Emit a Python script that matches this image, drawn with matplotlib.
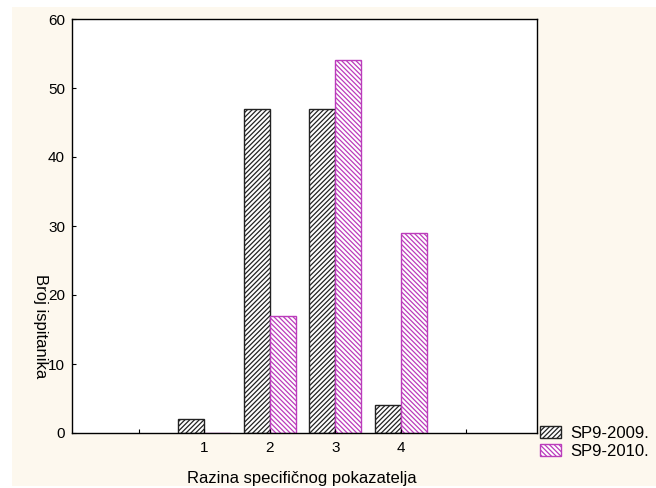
import matplotlib
matplotlib.use("Agg")
import matplotlib.pyplot as plt
from matplotlib.patches import Rectangle
import numpy as np

categories = [1, 2, 3, 4]
sp2009 = [2, 47, 47, 4]
sp2010 = [0, 17, 54, 29]
series_labels = ["SP9-2009.", "SP9-2010."]

plt.rcParams['font.family'] = ['Liberation Sans', 'DejaVu Sans']
plt.rcParams['hatch.linewidth'] = 0.9

W, H = 656, 488
fig = plt.figure(figsize=(W / 100, H / 100), dpi=100, facecolor='white')
fig.patches.append(Rectangle((12 / W, 1 - 486 / H), (W - 12) / W, (486 - 7) / H,
                             transform=fig.transFigure, facecolor='#fdf8ee',
                             edgecolor='none', zorder=-10))

ax = fig.add_axes([72 / W, 1 - 433 / H, (537 - 72) / W, (433 - 19) / H])
ax.set_facecolor('white')

x = np.array(categories, dtype=float)
w = 0.4
b1 = ax.bar(x - w / 2, sp2009, width=w, facecolor='white', edgecolor='#222222',
            hatch='/' * 7, linewidth=1.0, label=series_labels[0])
b2 = ax.bar(x + w / 2, sp2010, width=w, facecolor='white', edgecolor='#bb3cbb',
            hatch='\\' * 7, linewidth=1.0, label=series_labels[1])

ax.set_xlim(-1.02, 6.08)
ax.set_ylim(0, 60)
ax.set_xticks([0, 1, 2, 3, 4, 5])
ax.set_xticklabels(['', '1', '2', '3', '4', ''])
ax.set_yticks([0, 10, 20, 30, 40, 50, 60])
ax.tick_params(axis='x', direction='in', length=3, labelsize=11, pad=6)
ax.tick_params(axis='y', direction='in', length=3, labelsize=11, pad=5)
for s in ax.spines.values():
    s.set_linewidth(1.0)
    s.set_color('black')

fig.text(40 / W, 1 - 326 / H, 'Broj ispitanika', rotation=270, ha='center', va='center', fontsize=12)
fig.text(302 / W, 1 - 479 / H, 'Razina specifičnog pokazatelja', ha='center', va='center', fontsize=12)

leg = fig.legend(handles=[b1, b2], labels=series_labels, loc='upper left',
                 bbox_to_anchor=(538 / W, 1 - 424 / H), frameon=False, fontsize=12,
                 handlelength=1.3, handleheight=0.75, handletextpad=0.55, labelspacing=0.2,
                 borderpad=0.1, borderaxespad=0.0)

fig.savefig('out.png', dpi=100)
